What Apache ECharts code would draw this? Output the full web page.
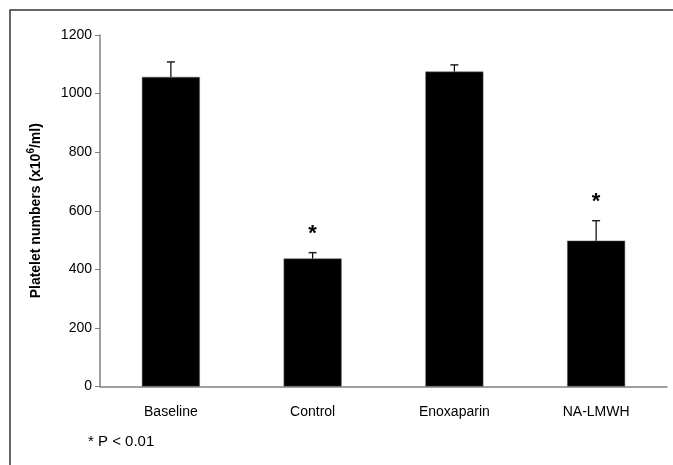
<!DOCTYPE html>
<html>
<head>
<meta charset="utf-8">
<script src="https://cdn.jsdelivr.net/npm/echarts@6/dist/echarts.min.js"></script>
<style>
  html, body { margin: 0; padding: 0; background: #fff; }
  #chart { width: 673px; height: 465px; }
</style>
</head>
<body>
<div id="chart"></div>
<script>
const categories = ["Baseline", "Control", "Enoxaparin", "NA-LMWH"];
const means = [1057, 437, 1075, 498];
const errors = [51, 20, 23, 68];
// which groups carry the significance star
const significant = [false, true, false, true];
const yTicks = [0, 200, 400, 600, 800, 1000, 1200];

const chart = echarts.init(document.getElementById("chart"));

const errData = means.map((m, i) => [i, m, errors[i], significant[i] ? 1 : 0]);

chart.setOption({
  animation: false,
  textStyle: { fontFamily: "Liberation Sans, Arial, sans-serif" },
  grid: { left: 100, right: 6, top: 35, bottom: 78.5, containLabel: false },
  graphic: [
    {
      type: "rect",
      shape: { x: 10, y: 10, width: 720, height: 520 },
      style: { fill: "none", stroke: "#333", lineWidth: 1.5 },
      silent: true,
    },
    {
      type: "text",
      left: 88,
      top: 434,
      style: { text: "* P < 0.01", fontSize: 15, fill: "#000", fontFamily: "Liberation Sans, Arial, sans-serif" },
    },
  ],
  xAxis: {
    type: "category",
    data: categories,
    axisLine: { lineStyle: { color: "#808080", width: 1.5 } },
    axisTick: { show: false },
    axisLabel: { color: "#000", fontSize: 14, margin: 19 },
  },
  yAxis: {
    type: "value",
    min: yTicks[0],
    max: yTicks[yTicks.length - 1],
    interval: 200,
    name: "Platelet numbers (x10{sup|6}/ml)",
    nameLocation: "middle",
    nameGap: 54,
    nameTextStyle: {
      color: "#000",
      fontSize: 14,
      fontWeight: "bold",
      rich: {
        sup: { fontSize: 10, fontWeight: "bold", color: "#000", verticalAlign: "top", lineHeight: 20 },
      },
    },
    splitLine: { show: false },
    axisLine: { show: true, lineStyle: { color: "#808080", width: 1.5 } },
    axisTick: { show: true, length: 5, lineStyle: { color: "#808080" } },
    axisLabel: { color: "#000", fontSize: 14, margin: 8, formatter: (v) => String(v) },
  },
  series: [
    {
      type: "bar",
      data: means,
      barWidth: 58,
      itemStyle: { color: "#000", borderColor: "#666", borderWidth: 0.5 },
    },
    {
      type: "custom",
      data: errData,
      z: 5,
      renderItem(params, api) {
        const i = api.value(0);
        const m = api.value(1);
        const e = api.value(2);
        const base = api.coord([i, m]);
        const top = api.coord([i, m + e]);
        const children = [
          {
            type: "line",
            shape: { x1: base[0], y1: base[1], x2: top[0], y2: top[1] },
            style: { stroke: "#000", lineWidth: 1.2 },
          },
          {
            type: "line",
            shape: { x1: top[0] - 4, y1: top[1], x2: top[0] + 4, y2: top[1] },
            style: { stroke: "#222", lineWidth: 1.5 },
          },
        ];
        if (api.value(3)) {
          children.push({
            type: "text",
            style: {
              text: "*",
              x: top[0],
              y: top[1] - 19,
              align: "center",
              verticalAlign: "middle",
              fontSize: 22,
              fontWeight: "bold",
              fill: "#000",
              fontFamily: "Liberation Sans, Arial, sans-serif",
            },
          });
        }
        return { type: "group", children };
      },
    },
  ],
});
</script>
</body>
</html>
